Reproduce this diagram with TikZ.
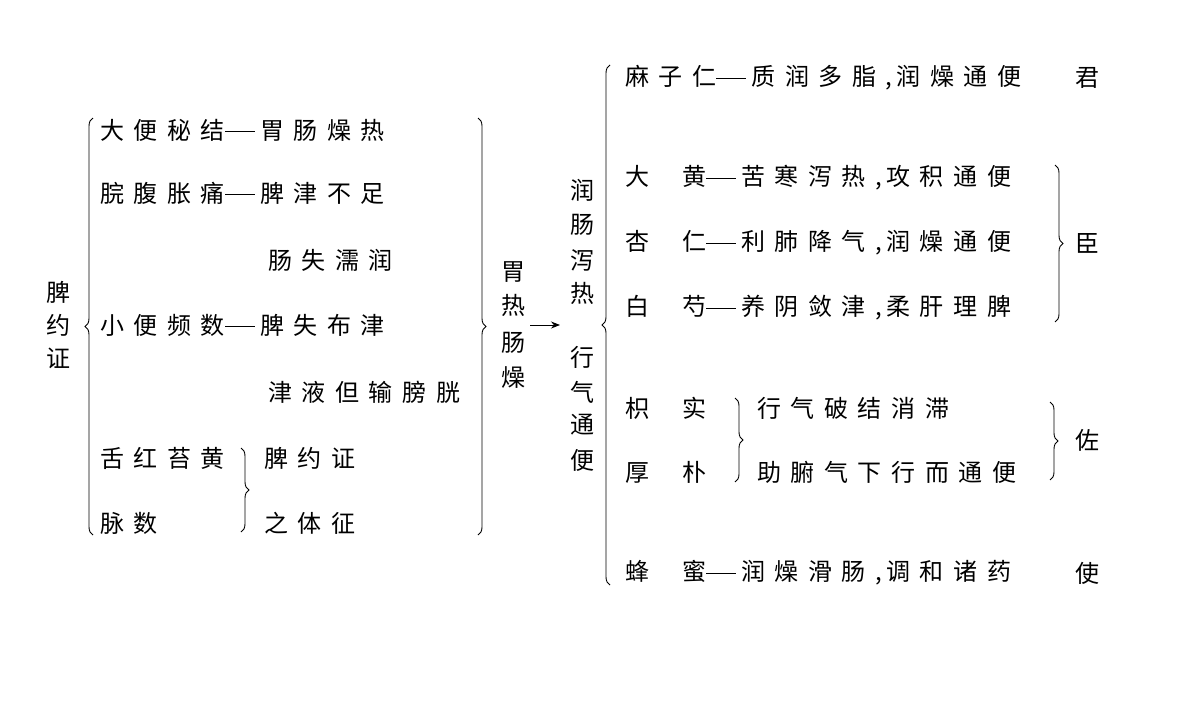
\documentclass[tikz,border=0pt]{standalone}
\usepackage{fontspec}
\newfontfamily\cjk[LetterSpace=40]{Noto Sans CJK SC}
\usetikzlibrary{decorations.pathreplacing,arrows.meta}
\newcommand{\dsh}{\rule[7.5pt]{30pt}{0.8pt}\hspace{5pt}}
\newcommand{\cm}{,\hspace{4pt}}
\begin{document}
\begin{tikzpicture}[x=1pt,y=-1pt,
  t/.style={anchor=west,inner sep=0,font=\cjk\fontsize{24}{24}\selectfont},
  c/.style={inner sep=0,font=\cjk\fontsize{24}{24}\selectfont},
  lb/.style={decorate,decoration={brace,amplitude=8pt},line width=0.9pt},
  ar/.style={-{Stealth[length=9pt,width=7pt]},line width=0.9pt}]
\useasboundingbox (0,0) rectangle (1200,720);
\foreach \ch/\y [count=\i] in {脾/292,约/325,证/358} \node[c] (p\i) at (58,\y) {\ch};
\draw[lb] (93,535) -- (93,118);
\node[t] (r1) at (100,130) {大便秘结\dsh 胃肠燥热};
\node[t] (r2) at (100,193) {脘腹胀痛\dsh 脾津不足};
\node[t] (r3) at (268,260) {肠失濡润};
\node[t] (r4) at (100,325) {小便频数\dsh 脾失布津};
\node[t] (r5) at (268,392) {津液但输膀胱};
\node[t] (r6) at (100,458) {舌红苔黄};
\node[t] (r7) at (100,523) {脉数};
\node[t] (r8) at (264,458) {脾约证};
\node[t] (r9) at (264,523) {之体征};
\draw[lb] (241,448) -- (241,532);
\draw[lb] (478,118) -- (478,535);
\foreach \ch/\y [count=\i] in {胃/272,热/305,肠/343,燥/378} \node[c] (w\i) at (513,\y) {\ch};
\coordinate (a1) at (530,325); \coordinate (a2) at (560,325);
\draw[ar] (a1) -- (a2);
\foreach \ch/\y [count=\i] in {润/190,肠/225,泻/260,热/293,行/357,气/392,通/425,便/460} \node[c] (m\i) at (582,\y) {\ch};
\draw[lb] (610,585) -- (610,65);
\node[t] (s1) at (625,78) {麻子仁\dsh 质润多脂\cm 润燥通便};
\node[c] (j1) at (1087,78) {君};
\node[t] (s2) at (625,178) {大\hspace{33pt}黄\dsh 苦寒泻热\cm 攻积通便};
\node[t] (s3) at (625,243) {杏\hspace{33pt}仁\dsh 利肺降气\cm 润燥通便};
\node[t] (s4) at (625,308) {白\hspace{33pt}芍\dsh 养阴敛津\cm 柔肝理脾};
\draw[lb] (1055,165) -- (1055,322);
\node[c] (j2) at (1087,243) {臣};
\node[t] (s5) at (625,408) {枳\hspace{33pt}实};
\node[t] (s6) at (625,472) {厚\hspace{33pt}朴};
\draw[lb] (735,398) -- (735,482);
\node[t] (s7) at (757,408) {行气破结消滞};
\node[t] (s8) at (757,472) {助腑气下行而通便};
\draw[lb] (1050,402) -- (1050,480);
\node[c] (j3) at (1087,440) {佐};
\node[t] (s9) at (625,573) {蜂\hspace{33pt}蜜\dsh 润燥滑肠\cm 调和诸药};
\node[c] (j4) at (1087,573) {使};
\end{tikzpicture}
\end{document}
